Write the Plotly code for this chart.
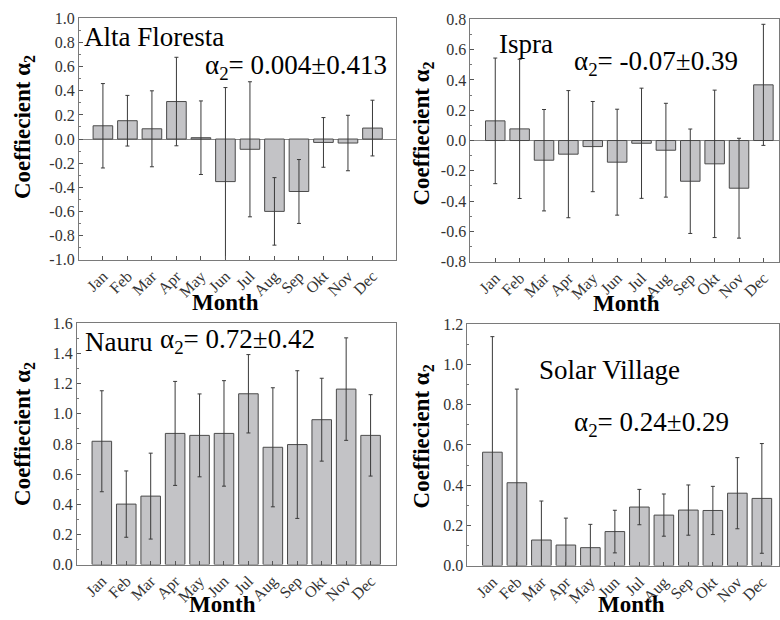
import plotly.graph_objects as go

months = ["Jan", "Feb", "Mar", "Apr", "May", "Jun", "Jul", "Aug", "Sep", "Okt", "Nov", "Dec"]

alta_vals = [0.11, 0.152, 0.085, 0.311, 0.011, -0.353, -0.085, -0.60, -0.435, -0.028, -0.033, 0.091]
alta_err = [0.35, 0.21, 0.315, 0.367, 0.305, 0.78, 0.56, 0.28, 0.265, 0.206, 0.23, 0.231]

ispra_vals = [0.13, 0.077, -0.13, -0.09, -0.04, -0.143, -0.018, -0.064, -0.269, -0.154, -0.315, 0.368]
ispra_err = [0.415, 0.46, 0.335, 0.42, 0.298, 0.35, 0.364, 0.31, 0.345, 0.487, 0.33, 0.40]

nauru_vals = [0.818, 0.401, 0.454, 0.870, 0.857, 0.870, 1.133, 0.778, 0.796, 0.961, 1.164, 0.857]
nauru_err = [0.335, 0.22, 0.285, 0.345, 0.275, 0.35, 0.26, 0.395, 0.49, 0.275, 0.34, 0.27]

solar_vals = [0.564, 0.412, 0.127, 0.102, 0.089, 0.169, 0.291, 0.251, 0.276, 0.274, 0.360, 0.334]
solar_err = [0.575, 0.466, 0.194, 0.134, 0.116, 0.106, 0.088, 0.105, 0.125, 0.12, 0.177, 0.273]

W, H = 780, 620
def px(x):
    return x / W
def py(y):
    # vertical placement, corrected for the observed vertical shift of the capture
    d = (y - 6.5) / 0.976
    return 1 - d / H

FONT = "Liberation Serif, 'Times New Roman', Times, serif"
BAR_FILL = "#c3c3c6"
BAR_LINE = "#4a4a4a"
AX = "#7a7a7a"

panels = [
    dict(vals=alta_vals, err=alta_err, dom_x=(79, 397), dom_y=(17, 259), xr=[-0.98, 11.98],
         yr=[-1.0, 1.0], yt=[-1.0 + 0.2 * i for i in range(11)], zero=True),
    dict(vals=ispra_vals, err=ispra_err, dom_x=(471, 780), dom_y=(18, 261), xr=[-1.02, 11.64],
         yr=[-0.8, 0.8], yt=[-0.8 + 0.2 * i for i in range(9)], zero=True),
    dict(vals=nauru_vals, err=nauru_err, dom_x=(77, 397), dom_y=(323, 565), xr=[-1.02, 12.06],
         yr=[0.0, 1.6], yt=[0.2 * i for i in range(9)], zero=False),
    dict(vals=solar_vals, err=solar_err, dom_x=(468, 780), dom_y=(324, 566), xr=[-1.02, 11.7],
         yr=[0.0, 1.2], yt=[0.2 * i for i in range(7)], zero=False),
]

def fmt(v):
    s = "%.1f" % v
    if s == "-0.0":
        s = "0.0"
    return s

fig = go.Figure()
layout = dict(
    width=W, height=H, margin=dict(l=0, r=0, t=0, b=0),
    paper_bgcolor="white", plot_bgcolor="white", showlegend=False,
    font=dict(family=FONT, color="#333"),
)

for i, p in enumerate(panels):
    n = "" if i == 0 else str(i + 1)
    fig.add_trace(go.Bar(
        x=months, y=p["vals"],
        marker=dict(color=BAR_FILL, line=dict(color=BAR_LINE, width=1)),
        error_y=dict(type="data", array=p["err"], visible=True, color="#3a3a3a", thickness=1, width=2),
        xaxis="x" + n, yaxis="y" + n, width=0.8,
    ))
    layout["xaxis" + n] = dict(
        domain=[px(p["dom_x"][0]), px(p["dom_x"][1])], anchor="y" + n,
        range=p["xr"], type="category", showline=True, linecolor=AX, linewidth=1, mirror=True,
        ticks="inside", ticklen=4, tickcolor="#555", tickangle=-45,
        tickfont=dict(family=FONT, size=16, color="#333"), showgrid=False, zeroline=False,
    )
    layout["yaxis" + n] = dict(
        domain=[py(p["dom_y"][1]), py(p["dom_y"][0])], anchor="x" + n,
        range=p["yr"], tickmode="array", tickvals=p["yt"], ticktext=[fmt(v) for v in p["yt"]],
        showline=True, linecolor=AX, linewidth=1, mirror=True,
        ticks="inside", ticklen=4, tickcolor="#555",
        minor=dict(ticks="inside", ticklen=2, dtick=0.1, tickcolor="#777", showgrid=False),
        tickfont=dict(family=FONT, size=16, color="#333"), showgrid=False,
        zeroline=p["zero"], zerolinecolor="#888", zerolinewidth=1,
    )

fig.update_layout(**layout)

ann = []
def text(x, y, t, size=27, xanchor="left", angle=0, bold=False):
    if bold:
        t = "<b>" + t + "</b>"
    ann.append(dict(x=px(x), y=py(y), xref="paper", yref="paper", text=t, showarrow=False,
                    xanchor=xanchor, yanchor="middle", textangle=angle,
                    font=dict(family=FONT, size=size, color="black")))

# station names and alpha values
text(82, 36, "Alta Floresta")
text(203, 66, "α<sub>2</sub>= 0.004±0.413")
text(498, 43, "Ispra")
text(573, 62, "α<sub>2</sub>= -0.07±0.39")
text(83, 342, "Nauru")
text(158, 341, "α<sub>2</sub>= 0.72±0.42")
text(538, 370, "Solar Village")
text(573, 424, "α<sub>2</sub>= 0.24±0.29")

# axis titles
ytitle = "Coeffiecient α<sub>2</sub>"
text(24, 126, ytitle, size=23, xanchor="center", angle=-90, bold=True)
text(424, 132, ytitle, size=23, xanchor="center", angle=-90, bold=True)
text(24, 434, ytitle, size=23, xanchor="center", angle=-90, bold=True)
text(424, 436, ytitle, size=23, xanchor="center", angle=-90, bold=True)
text(226, 302, "Month", size=23, xanchor="center", bold=True)
text(627, 303, "Month", size=23, xanchor="center", bold=True)
text(223, 605, "Month", size=23, xanchor="center", bold=True)
text(632, 605, "Month", size=23, xanchor="center", bold=True)

fig.update_layout(annotations=ann)

post = (
    "var gd=document.getElementById('{plot_id}');"
    "document.documentElement.style.margin='0';document.documentElement.style.overflow='hidden';"
    "document.body.style.margin='0';document.body.style.padding='0';document.body.style.overflow='hidden';"
    "gd.style.position='fixed';gd.style.left='0px';gd.style.top='0px';"
)
fig.write_html("out.html", config={"displayModeBar": False}, post_script=post)
